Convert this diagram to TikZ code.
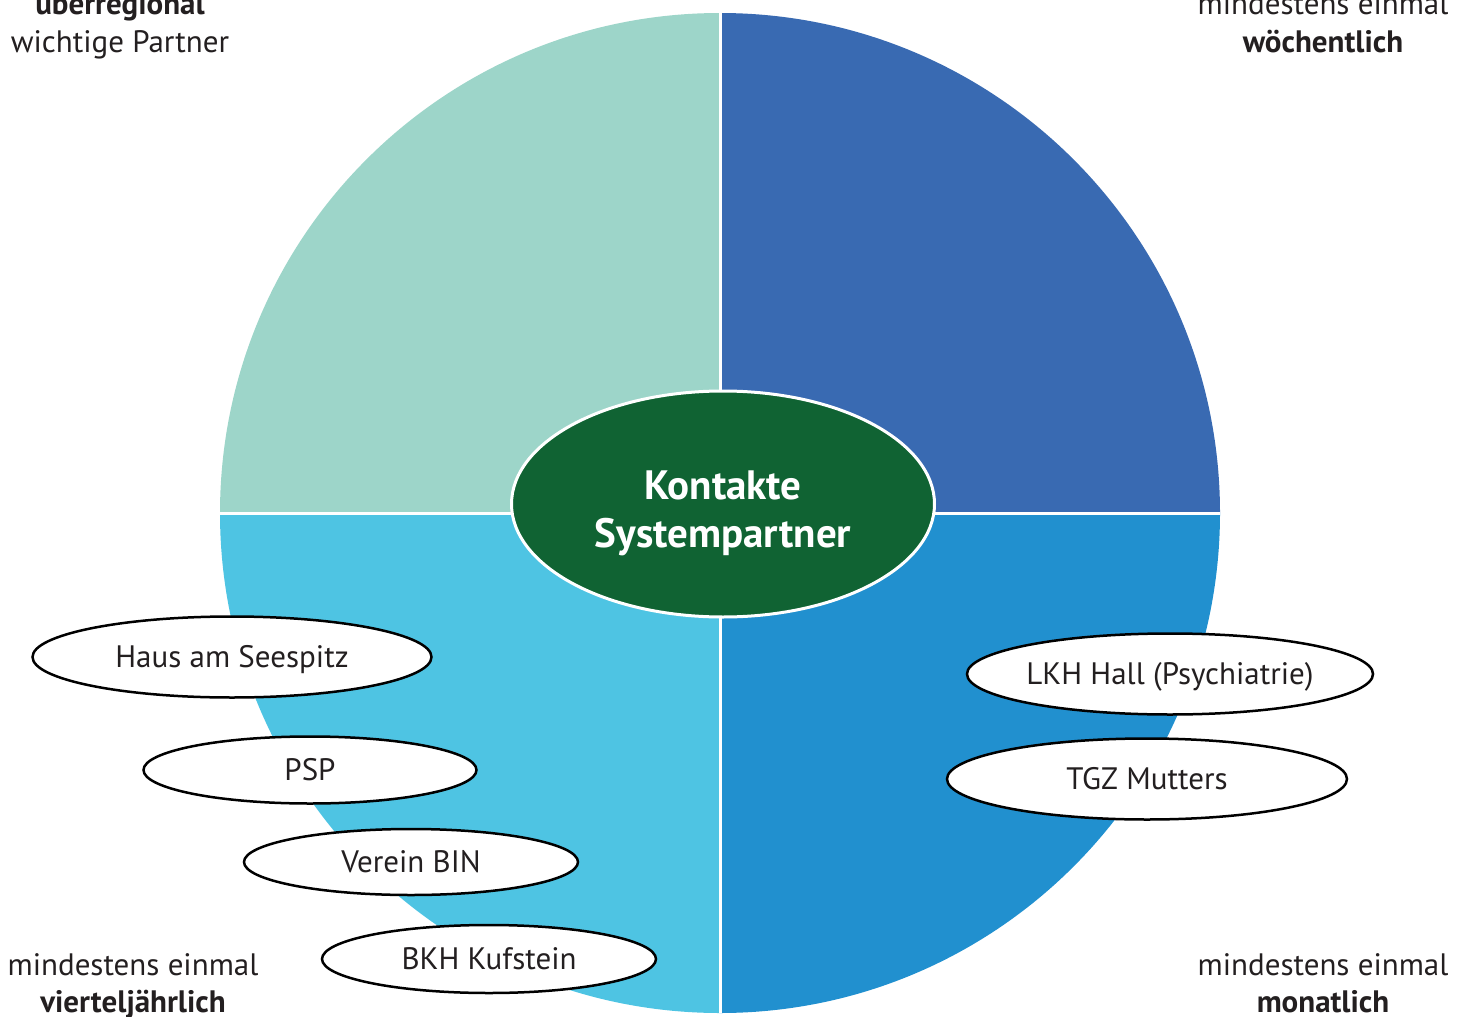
\documentclass[tikz,border=0pt]{standalone}
\usepackage{fontspec}
\setmainfont{PT Sans}
\usetikzlibrary{shapes.geometric}
\definecolor{quadMint}{RGB}{157,213,201}
\definecolor{quadBlue}{RGB}{57,106,178}
\definecolor{quadSky}{RGB}{78,196,227}
\definecolor{quadMid}{RGB}{33,144,207}
\definecolor{kontaktGreen}{RGB}{16,99,51}
\definecolor{textGray}{RGB}{35,31,32}
\newcommand{\wheelRadius}{500}
\newcommand{\labelFont}{\fontsize{31}{37}\selectfont}

\begin{document}
\begin{tikzpicture}[x=1pt, y=-1pt]
  \tikzset{partner/.style={ellipse, draw=black, line width=2.5pt, fill=white, text=textGray, inner sep=0pt, font=\labelFont, text height=21pt, text depth=0pt},
    freq/.style={align=center, anchor=base, text=textGray, font=\labelFont, inner sep=0pt}}
  \useasboundingbox (0,0) rectangle (1468,1017);
  \coordinate (C) at (720,513);
  % quadrants
  \fill[quadMint] (C) -- (720,13) arc[start angle=-90, end angle=-180, radius=\wheelRadius] -- cycle;
  \fill[quadBlue] (C) -- (720,13) arc[start angle=-90, end angle=0, radius=\wheelRadius] -- cycle;
  \fill[quadSky] (C) -- (220,513) arc[start angle=180, end angle=90, radius=\wheelRadius] -- cycle;
  \fill[quadMid] (C) -- (1220,513) arc[start angle=0, end angle=90, radius=\wheelRadius] -- cycle;
  \draw[white, line width=3pt] (720,13) -- (720,1013) (220,513) -- (1220,513);
  \node[ellipse, fill=kontaktGreen, draw=white, line width=3pt, minimum width=423, minimum height=226, inner sep=0pt,
    align=center, text=white, font=\fontsize{41}{48}\selectfont\bfseries, text height=86pt, text depth=0pt] (KS) at (723,504) {Kontakte\\Systempartner};
  % partners
  \node[partner, minimum width=399, minimum height=81] (P-3-1) at (232,657) {Haus am Seespitz};
  \node[partner, minimum width=333, minimum height=67] (P-3-2) at (310,770) {PSP};
  \node[partner, minimum width=334, minimum height=66] (P-3-3) at (411,862) {Verein BIN};
  \node[partner, minimum width=334, minimum height=68] (P-3-4) at (489,959) {BKH Kufstein};
  \node[partner, minimum width=400, minimum height=81] (P-4-1) at (1170,674) {LKH Hall (Psychiatrie)};
  \node[partner, minimum width=400, minimum height=81] (P-4-2) at (1147,779) {TGZ Mutters};
  % frequencies
  \node[freq] (L-1) at (120,52) {\textbf{überregional}\\wichtige Partner};
  \node[freq] (L-2) at (1323,52) {mindestens einmal\\\textbf{wöchentlich}};
  \node[freq] (L-3) at (133,1012) {mindestens einmal\\\textbf{vierteljährlich}};
  \node[freq] (L-4) at (1323,1012) {mindestens einmal\\\textbf{monatlich}};
\end{tikzpicture}
\end{document}
